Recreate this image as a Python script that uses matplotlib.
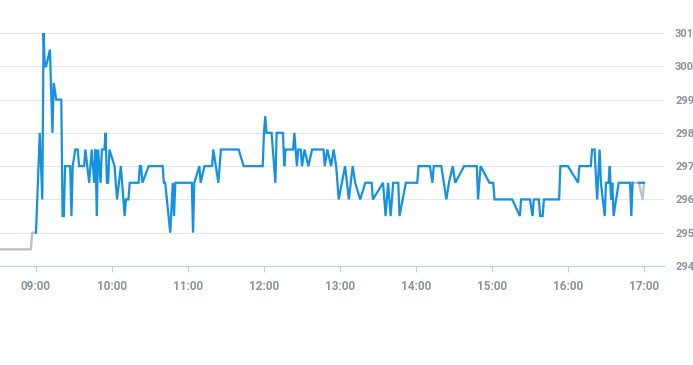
import matplotlib
matplotlib.use("Agg")
import matplotlib.pyplot as plt

# ---------------------------
# Data (times as HH:MM, values)
# ---------------------------
blue_times = [
    "09:00", "09:03", "09:05", "09:06", "09:07", "09:08", "09:11", "09:13", "09:14", "09:16",
    "09:20", "09:21", "09:22", "09:23", "09:27", "09:28", "09:29", "09:31", "09:33", "09:34",
    "09:38", "09:39", "09:42", "09:44", "09:46", "09:47", "09:48", "09:49", "09:51", "09:52",
    "09:54", "09:55", "09:56", "09:57", "09:58", "10:02", "10:04", "10:07", "10:10", "10:11",
    "10:13", "10:14", "10:21", "10:22", "10:23", "10:24", "10:29", "10:40", "10:41", "10:42",
    "10:46", "10:48", "10:49", "10:50", "11:03", "11:04", "11:05", "11:09", "11:10", "11:13",
    "11:19", "11:20", "11:24", "11:26", "11:40", "11:44", "11:59", "12:00", "12:01", "12:02",
    "12:06", "12:09", "12:10", "12:15", "12:16", "12:17", "12:23", "12:24", "12:25", "12:26",
    "12:27", "12:29", "12:30", "12:32", "12:35", "12:38", "12:47", "12:48", "12:50", "12:53",
    "12:55", "12:57", "12:59", "13:04", "13:07", "13:10", "13:12", "13:16", "13:20", "13:25",
    "13:26", "13:34", "13:36", "13:38", "13:40", "13:42", "13:46", "13:47", "13:52", "14:01",
    "14:02", "14:11", "14:13", "14:14", "14:20", "14:22", "14:24", "14:26", "14:29", "14:31",
    "14:38", "14:48", "14:49", "14:51", "14:58", "15:01", "15:02", "15:16", "15:22", "15:23",
    "15:30", "15:32", "15:33", "15:37", "15:38", "15:40", "15:41", "15:53", "15:54", "16:00",
    "16:08", "16:09", "16:18", "16:19", "16:21", "16:23", "16:25", "16:26", "16:29", "16:30",
    "16:32", "16:33", "16:34", "16:35", "16:36", "16:38", "16:40", "16:49", "16:50", "16:51",
    None, "16:56", "17:00",
]
blue_values = [
    295, 298, 296, 301, 300, 300, 300.5, 298, 299.5, 299,
    299, 295.5, 295.5, 297, 297, 295.5, 297, 297.5, 297.5, 297,
    297, 297.5, 296.5, 297.5, 296.5, 297.5, 295.5, 297.5, 296.5, 297.5,
    297.5, 298, 296.5, 296.5, 297.5, 297, 296, 297, 295.5, 296,
    296, 296.5, 296.5, 297, 297, 296.5, 297, 297, 296.5, 296.5,
    295, 296.5, 295.5, 296.5, 296.5, 295, 296.5, 297, 296.5, 297,
    297, 297.5, 296.5, 297.5, 297.5, 297, 297, 298, 298.5, 298,
    298, 296.5, 298, 298, 297, 297.5, 297.5, 298, 297.5, 297,
    297.5, 297.5, 297, 297.5, 297, 297.5, 297.5, 297, 297.5, 297,
    297.5, 297, 296, 297, 296, 297, 296.5, 296, 296.5, 296.5,
    296, 296.5, 295.5, 296.5, 295.5, 296.5, 296.5, 295.5, 296.5, 296.5,
    297, 297, 296.5, 297, 297, 296.5, 296, 296.5, 297, 296.5,
    297, 297, 296, 297, 296.5, 296.5, 296, 296, 295.5, 296,
    296, 295.5, 296, 296, 295.5, 295.5, 296, 296, 297, 297,
    296.5, 297, 297, 297.5, 297.5, 296, 297.5, 296.5, 295.5, 296.5,
    296.5, 297, 296, 296.5, 295.5, 296, 296.5, 296.5, 295.5, 296.5,
    None, 296.5, 296.5,
]

gray_start_times = ["08:32", "08:56", "08:57", "09:00"]
gray_start_values = [294.5, 294.5, 295, 295]
gray_end_times = ["16:51", "16:56", "16:59", "17:00"]
gray_end_values = [296.5, 296.5, 296, 296.5]

x_ticks = ["09:00", "10:00", "11:00", "12:00", "13:00", "14:00", "15:00", "16:00", "17:00"]
y_ticks = [294, 295, 296, 297, 298, 299, 300, 301]


def to_hours(t):
    if t is None:
        return float("nan")
    h, m = t.split(":")
    return int(h) + int(m) / 60.0


def series(times, values):
    return [to_hours(t) for t in times], [float("nan") if v is None else v for v in values]


# ---------------------------
# Plot
# ---------------------------
plt.rcParams["font.family"] = ["Roboto", "DejaVu Sans"]

fig = plt.figure(figsize=(6.93, 3.65), dpi=100)
ax = fig.add_axes([0, 1 - 266 / 365, 664 / 693, (266 - 33) / 365])

label_color = "#8a939c"
grid_color = "#e3e6ea"

gx, gy = series(gray_start_times, gray_start_values)
ax.plot(gx, gy, color="#b9c0c7", lw=1.6, zorder=2)
gx, gy = series(gray_end_times, gray_end_values)
ax.plot(gx, gy, color="#b9c0c7", lw=1.6, zorder=2)
bx, by = series(blue_times, blue_values)
ax.plot(bx, by, color="#1591e1", lw=1.6, zorder=3, solid_joinstyle="miter")

ax.set_xlim(9 - 28.4 / 60, 17 + 15.8 / 60)
ax.set_ylim(294, 301)

ax.set_xticks([to_hours(t) for t in x_ticks])
ax.set_xticklabels(x_ticks)
ax.set_yticks(y_ticks)
ax.set_yticklabels([str(v) for v in y_ticks])

ax.yaxis.tick_right()
ax.tick_params(axis="y", length=0, pad=8, labelsize=8, labelcolor=label_color)
ax.tick_params(axis="x", length=4, width=0.8, color="#c8cdd2", pad=6,
               labelsize=8.5, labelcolor=label_color)
for lbl in ax.get_xticklabels() + ax.get_yticklabels():
    lbl.set_fontweight("bold")

ax.grid(axis="y", color=grid_color, lw=0.8, zorder=0)
for side in ["top", "left", "right"]:
    ax.spines[side].set_visible(False)
ax.spines["bottom"].set_color("#c8cdd2")
ax.spines["bottom"].set_linewidth(0.8)

fig.savefig("out.png", dpi=100)
